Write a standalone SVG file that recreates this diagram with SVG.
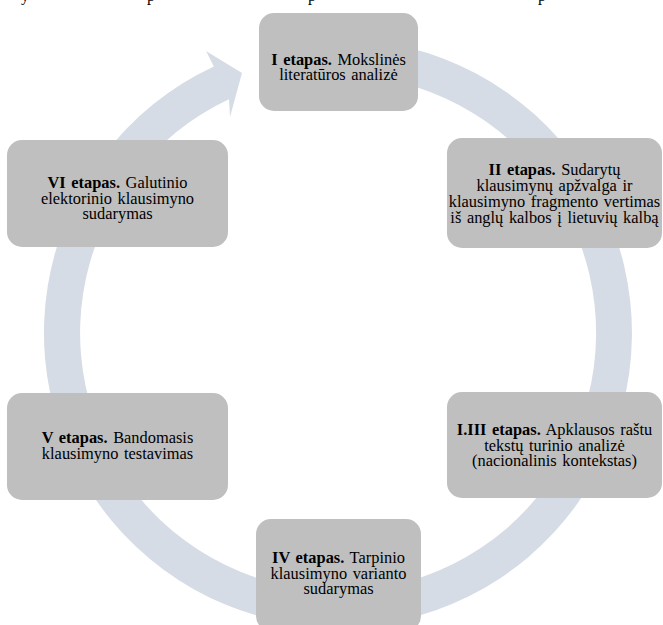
<svg xmlns="http://www.w3.org/2000/svg" width="663" height="625" viewBox="0 0 663 625">
  <style>
    .stage { fill: #bfbfbf; }
    .label { font-size: 16.4px; fill: #000; text-anchor: middle; word-spacing: 1.5px; }
    .lead { font-weight: bold; }
    .cut { font-size: 16px; fill: #000; }
  </style>

  <rect width="663" height="625" fill="#ffffff"/>

  <!-- descenders of the preceding text line, cut off at the top edge -->
  <g id="cut-line" font-family="'Liberation Serif', 'DejaVu Serif', serif">
    <text class="cut" x="21" y="0.5">y</text>
    <text class="cut" x="147" y="0.5">p</text>
    <text class="cut" x="308" y="0.5">p</text>
    <text class="cut" x="538" y="0.5">p</text>
  </g>

  <!-- circular process arrow behind the stages -->
  <g id="connectors">
    <path fill="#d6dce5" d="M 338 39 A 294 294 0 1 1 213.8 66.5 L 206 51 L 242 73 L 230 117 L 229 99.2 A 258 258 0 1 0 338 75 Z"/>
  </g>

  <g id="stages" font-family="'Liberation Serif', 'DejaVu Serif', serif">
    <g id="stage-1">
      <rect class="stage" x="259" y="13" width="159" height="98" rx="15"/>
      <text class="label" x="338.5" y="65"><tspan class="lead">I etapas.</tspan> Mokslinės<tspan x="338.5" dy="15">literatūros analizė</tspan></text>
    </g>

    <g id="stage-2">
      <rect class="stage" x="447" y="138" width="215" height="110" rx="15"/>
      <text class="label" x="554.5" y="175"><tspan class="lead">II etapas.</tspan> Sudarytų<tspan x="554.5" dy="16">klausimynų apžvalga ir</tspan><tspan x="554.5" dy="16">klausimyno fragmento vertimas</tspan><tspan x="554.5" dy="16">iš anglų kalbos į lietuvių kalbą</tspan></text>
    </g>

    <g id="stage-3">
      <rect class="stage" x="447" y="392" width="215" height="106" rx="15"/>
      <text class="label" x="554.5" y="435"><tspan class="lead">I.III etapas.</tspan> Apklausos raštu<tspan x="554.5" dy="15.5">tekstų turinio analizė</tspan><tspan x="554.5" dy="15.5">(nacionalinis kontekstas)</tspan></text>
    </g>

    <g id="stage-4">
      <rect class="stage" x="256" y="519" width="165" height="112" rx="15"/>
      <text class="label" x="338.5" y="563"><tspan class="lead">IV etapas.</tspan> Tarpinio<tspan x="338.5" dy="15.5">klausimyno varianto</tspan><tspan x="338.5" dy="15.5">sudarymas</tspan></text>
    </g>

    <g id="stage-5">
      <rect class="stage" x="7" y="393" width="221" height="107" rx="15"/>
      <text class="label" x="117.5" y="443"><tspan class="lead">V etapas.</tspan> Bandomasis<tspan x="117.5" dy="15.5">klausimyno testavimas</tspan></text>
    </g>

    <g id="stage-6">
      <rect class="stage" x="7" y="140" width="221" height="107" rx="15"/>
      <text class="label" x="117.5" y="188"><tspan class="lead">VI etapas.</tspan> Galutinio<tspan x="117.5" dy="15.5">elektorinio klausimyno</tspan><tspan x="117.5" dy="15.5">sudarymas</tspan></text>
    </g>
  </g>
</svg>
